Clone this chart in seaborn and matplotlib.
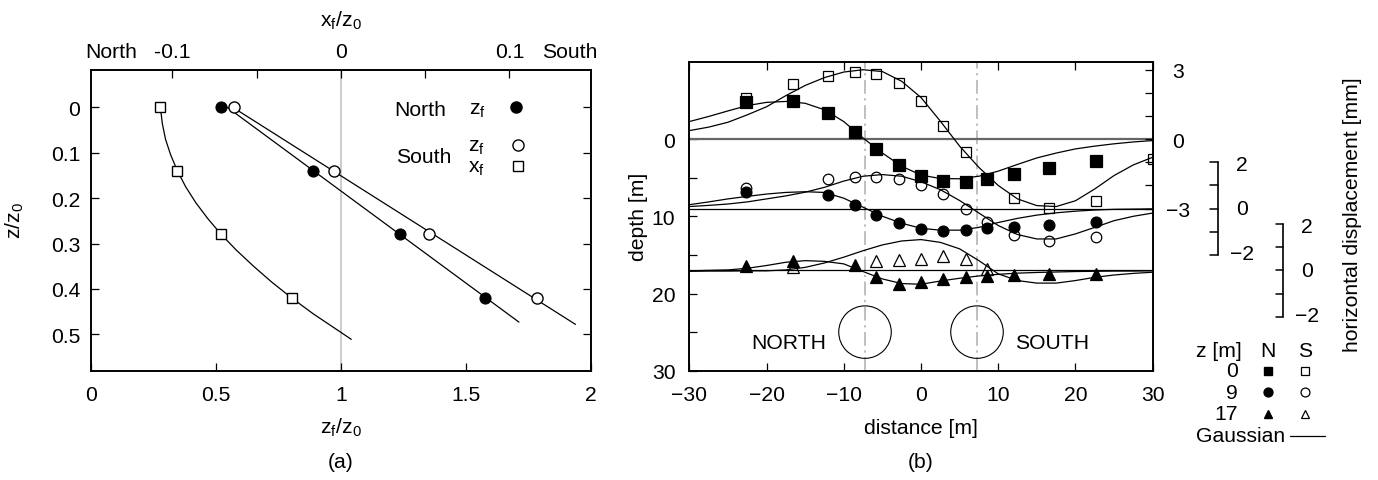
import numpy as np
import pandas as pd
import matplotlib
matplotlib.use("Agg")
import matplotlib.pyplot as plt
from matplotlib.patches import Circle
import seaborn as sns

# ---------------- Panel (a) data ----------------
a_z = [0.0, 0.14, 0.28, 0.42]                       # z/z0
a_north_zf = [0.519, 0.890, 1.235, 1.578]           # North z_f/z0
a_south_zf = [0.572, 0.972, 1.352, 1.783]           # South z_f/z0
a_south_xf = [-0.1071, -0.0970, -0.0710, -0.0291]   # South x_f/z0 (top axis)
a_north_line_z = [0.0, 0.473]
a_north_line_zf = [0.546, 1.712]
a_south_line_z = [0.0, 0.478]
a_south_line_zf = [0.568, 1.938]
a_xf_curve_z = [0.0, 0.035, 0.07, 0.105, 0.14, 0.175, 0.21, 0.245, 0.28,
                0.315, 0.35, 0.385, 0.42, 0.455, 0.49, 0.511]
a_xf_curve = [-0.1071, -0.1060, -0.1041, -0.1010, -0.0970, -0.0921, -0.0861,
              -0.0790, -0.0710, -0.0619, -0.0518, -0.0410, -0.0291, -0.0163,
              -0.0022, 0.0062]

# ---------------- Panel (b) data ----------------
# horizontal displacement [mm] vs distance [m]; 1 mm drawn as 3 m of depth
b_x_n0 = [-22.7, -16.6, -12.0, -8.6, -5.8, -2.9, 0.0, 2.9, 5.8, 8.6, 12.0, 16.6, 22.7]
b_d_n0 = [1.62, 1.66, 1.12, 0.30, -0.41, -1.11, -1.57, -1.82, -1.84, -1.73, -1.52, -1.25, -0.95]
b_x_s0 = [-22.7, -16.6, -12.0, -8.6, -5.8, -2.9, 0.0, 2.9, 5.8, 12.0, 16.6, 22.7, 30.0]
b_d_s0 = [1.76, 2.38, 2.74, 2.88, 2.82, 2.42, 1.66, 0.59, -0.57, -2.55, -2.98, -2.68, -0.85]
b_x_n9 = [-22.7, -12.0, -8.6, -5.8, -2.9, 0.0, 2.9, 5.8, 8.6, 12.0, 16.6, 22.7]
b_d_n9 = [0.73, 0.59, 0.17, -0.26, -0.63, -0.87, -0.95, -0.92, -0.85, -0.80, -0.69, -0.56]
b_x_s9 = [-22.7, -12.0, -8.6, -5.8, -2.9, 0.0, 2.9, 5.8, 8.6, 12.0, 16.6, 22.7]
b_d_s9 = [0.88, 1.28, 1.36, 1.36, 1.28, 1.02, 0.63, -0.01, -0.59, -1.14, -1.38, -1.24]
b_x_n17 = [-22.7, -16.6, -8.6, -5.8, -2.9, 0.0, 2.9, 5.8, 8.6, 12.0, 16.6, 22.7]
b_d_n17 = [0.20, 0.39, 0.24, -0.30, -0.61, -0.51, -0.38, -0.30, -0.24, -0.20, -0.17, -0.14]
b_x_s17 = [-16.6, -5.8, -2.9, 0.0, 2.9, 5.8, 8.6]
b_d_s17 = [0.16, 0.41, 0.44, 0.50, 0.61, 0.48, 0.05]

# Gaussian curves
b_xg = [-30, -27.5, -25, -22.5, -20, -17.5, -15, -12.5, -10, -7.5, -5, -2.5, 0,
        2.5, 5, 7.5, 10, 12.5, 15, 17.5, 20, 22.5, 25, 27.5, 30]
b_g_n0 = [0.76, 0.98, 1.22, 1.45, 1.59, 1.63, 1.55, 1.27, 0.76, 0.05, -0.60, -1.17, -1.55,
          -1.70, -1.71, -1.60, -1.38, -1.09, -0.81, -0.60, -0.42, -0.30, -0.20, -0.12, -0.06]
b_g_s0 = [0.37, 0.52, 0.73, 1.05, 1.40, 1.88, 2.32, 2.66, 2.90, 3.00, 2.92, 2.50, 1.80,
          0.78, -0.30, -1.22, -2.00, -2.58, -2.87, -2.91, -2.66, -2.15, -1.57, -1.11, -0.78]
b_g_n9 = [0.17, 0.29, 0.42, 0.53, 0.63, 0.70, 0.73, 0.70, 0.45, 0.06, -0.33, -0.63, -0.85,
          -0.93, -0.93, -0.81, -0.60, -0.42, -0.28, -0.18, -0.11, -0.06, -0.03, -0.02, -0.01]
b_g_s9 = [0.09, 0.14, 0.20, 0.29, 0.42, 0.55, 0.71, 0.92, 1.19, 1.40, 1.47, 1.40, 1.16,
          0.82, 0.35, -0.19, -0.73, -1.12, -1.31, -1.31, -1.09, -0.81, -0.52, -0.33, -0.19]
b_g_n17 = [-0.02, 0.00, 0.02, 0.09, 0.21, 0.35, 0.42, 0.39, 0.28, -0.05, -0.37, -0.57, -0.60,
           -0.46, -0.34, -0.24, -0.17, -0.12, -0.09, -0.07, -0.05, -0.04, -0.03, -0.03, -0.02]
b_g_s17 = [-0.04, -0.03, -0.03, -0.02, -0.02, 0.02, 0.13, 0.32, 0.57, 0.85, 1.10, 1.27, 1.33,
           1.21, 0.93, 0.42, -0.15, -0.44, -0.55, -0.55, -0.44, -0.30, -0.20, -0.13, -0.08]

b_depths = [0, 9, 17]
MM_TO_M = 3.0
tunnel_x = [-7.25, 7.25]
tunnel_depth = 25.0
tunnel_radius = 3.4

# ---------------- figure ----------------
W, H = 1378, 481
def fx(px):
    return px / W
def fy(py):
    return 1 - py / H

sns.set_theme(style="white")
plt.rcParams["font.family"] = ["Liberation Sans", "DejaVu Sans"]
plt.rcParams["mathtext.fontset"] = "custom"
plt.rcParams["mathtext.rm"] = "Liberation Sans"
plt.rcParams["mathtext.it"] = "Liberation Sans"
FS = 15.2
K = "black"

fig = plt.figure(figsize=(W / 100, H / 100), dpi=100)
fig.patch.set_facecolor("white")

axA = fig.add_axes([fx(90.7), fy(371.7), (591 - 90.7) / W, (371.7 - 71.3) / H])
axB = fig.add_axes([fx(689.3), fy(371.7), (1152.7 - 689.3) / W, (371.7 - 63) / H])

for ax in (axA, axB):
    for s in ax.spines.values():
        s.set_color(K)
        s.set_linewidth(1.2)
    ax.set_facecolor("white")

line_kw = dict(color=K, lw=0.9, sort=False, estimator=None, legend=False)

# ----- panel (a) -----
axA.axvline(1.0, color="0.75", lw=1.1, zorder=0)
sns.lineplot(x=a_north_line_zf, y=a_north_line_z, ax=axA, **line_kw)
sns.lineplot(x=a_south_line_zf, y=a_south_line_z, ax=axA, **line_kw)
sns.lineplot(x=a_north_zf, y=a_z, ax=axA, marker="o", ms=8, mfc=K, mec=K,
             linestyle="", color=K, sort=False, estimator=None, legend=False)
sns.lineplot(x=a_south_zf, y=a_z, ax=axA, marker="o", ms=8, mfc="white", mec=K, mew=1.0,
             linestyle="", color=K, sort=False, estimator=None, legend=False)

axT = axA.twiny()
sns.lineplot(x=a_xf_curve, y=a_xf_curve_z, ax=axT, **line_kw)
sns.lineplot(x=a_south_xf, y=a_z, ax=axT, marker="s", ms=7.3, mfc="white", mec=K, mew=1.0,
             linestyle="", color=K, sort=False, estimator=None, legend=False)
axT.set_xlim(-0.14848, 0.14848)
axA.set_xlim(0, 2)
axA.set_ylim(0.58, -0.0815)
axT.set_ylim(0.58, -0.0815)

axA.set_xticks([0, 0.5, 1, 1.5, 2])
axA.set_xticklabels(["0", "0.5", "1", "1.5", "2"])
axA.set_yticks([0, 0.1, 0.2, 0.3, 0.4, 0.5])
axA.set_yticklabels(["0", "0.1", "0.2", "0.3", "0.4", "0.5"])
axA.tick_params(axis="x", direction="in", length=5.5, width=0.9, bottom=True, top=False,
                labelsize=FS, pad=10, colors=K)
axA.tick_params(axis="y", direction="in", length=5.5, width=0.9, left=True, right=True,
                labelsize=FS, pad=7.5, colors=K)
axT.set_xticks([-0.1, -0.05, 0, 0.05, 0.1])
axT.set_xticklabels(["-0.1", "", "0", "", "0.1"])
axT.tick_params(axis="x", direction="in", length=5.5, width=0.9, top=True, bottom=False,
                labelsize=FS, pad=7, colors=K)
for s in axT.spines.values():
    s.set_color(K)
    s.set_linewidth(1.2)
axA.set_xlabel("")
axA.set_ylabel("")
axT.set_xlabel("")
axT.set_ylabel("")

# panel (a) in-plot legend
axA.text(1.316, 0.005, "North", fontsize=FS, ha="center", va="center", color=K)
axA.text(1.546, 0.005, r"$\mathregular{z_f}$", fontsize=FS, ha="center", va="center", color=K)
axA.plot([1.70], [0.0], marker="o", ms=8, mfc=K, mec=K, linestyle="")
axA.text(1.33, 0.108, "South", fontsize=FS, ha="center", va="center", color=K)
axA.text(1.542, 0.086, r"$\mathregular{z_f}$", fontsize=FS, ha="center", va="center", color=K)
axA.plot([1.708], [0.082], marker="o", ms=8, mfc="white", mec=K, mew=1.0, linestyle="")
axA.text(1.542, 0.133, r"$\mathregular{x_f}$", fontsize=FS, ha="center", va="center", color=K)
axA.plot([1.708], [0.13], marker="s", ms=7.3, mfc="white", mec=K, mew=1.0, linestyle="")

fig.text(fx(111), fy(53), "North", fontsize=FS, ha="center", va="center", color=K)
fig.text(fx(569.5), fy(53), "South", fontsize=FS, ha="center", va="center", color=K)
fig.text(fx(341), fy(21), r"$\mathregular{x_f/z_0}$", fontsize=FS, ha="center", va="center", color=K)
fig.text(fx(341), fy(428), r"$\mathregular{z_f/z_0}$", fontsize=FS, ha="center", va="center", color=K)
fig.text(fx(15), fy(221), r"$\mathregular{z/z_0}$", fontsize=FS, ha="center", va="center",
         rotation=90, color=K)
fig.text(fx(341), fy(463), "(a)", fontsize=FS, ha="center", va="center", color=K)

# ----- panel (b) -----
axB.set_xlim(-30, 30)
axB.set_ylim(30, -10)
axB.axhline(0, color="0.4", lw=1.6, zorder=1)
axB.axhline(9, color=K, lw=0.9, zorder=1)
axB.axhline(17, color=K, lw=0.9, zorder=1)
for tx in tunnel_x:
    axB.axvline(tx, color="0.68", lw=1.1, ls=(0, (9, 3, 1.5, 3)), zorder=0)
    axB.add_patch(Circle((tx, tunnel_depth), tunnel_radius, fill=False, ec=K, lw=0.8))

curves = [(b_g_n0, 0), (b_g_s0, 0), (b_g_n9, 9), (b_g_s9, 9), (b_g_n17, 17), (b_g_s17, 17)]
for g, base in curves:
    yy = base - MM_TO_M * np.asarray(g)
    sns.lineplot(x=b_xg, y=yy, ax=axB, **line_kw)

series = [
    (b_x_n0, b_d_n0, 0, "s", K, 8.4),
    (b_x_s0, b_d_s0, 0, "s", "none", 7.6),
    (b_x_n9, b_d_n9, 9, "o", K, 7.8),
    (b_x_s9, b_d_s9, 9, "o", "none", 7.6),
    (b_x_n17, b_d_n17, 17, "^", K, 8.2),
    (b_x_s17, b_d_s17, 17, "^", "none", 8.2),
]
for xs, ds, base, mk, fc, ms in series:
    yy = base - MM_TO_M * np.asarray(ds)
    sns.lineplot(x=xs, y=yy, ax=axB, marker=mk, ms=ms, mfc=fc, mec=K, mew=0.9,
                 linestyle="", color=K, sort=False, estimator=None, legend=False)

axB.set_xlabel("")
axB.set_ylabel("")
axB.set_xticks([-30, -20, -10, 0, 10, 20, 30])
axB.set_xticklabels(["\u221230", "\u221220", "\u221210", "0", "10", "20", "30"])
axB.set_yticks([0, 5, 10, 15, 20, 25, 30])
axB.set_yticklabels(["0", "", "10", "", "20", "", "30"])
axB.tick_params(axis="x", direction="in", length=6, width=0.9, bottom=True, top=True,
                labelsize=FS, pad=10, colors=K)
axB.tick_params(axis="y", direction="in", length=6, width=0.9, left=True, right=False,
                labelsize=FS, pad=10, colors=K)

axR = axB.twinx()
axR.set_ylim(-30 / MM_TO_M, 10 / MM_TO_M)
axR.set_yticks([-3, -2, -1, 0, 1, 2, 3])
axR.set_yticklabels(["\u22123", "", "", "0", "", "", "3"])
axR.tick_params(axis="y", direction="in", length=6, width=0.9, right=True, left=False,
                labelsize=FS, pad=18, colors=K)
for lab in axR.get_yticklabels():
    lab.set_horizontalalignment("center")
for s in axR.spines.values():
    s.set_color(K)
    s.set_linewidth(1.2)

# secondary displacement scale bars (for z = 9 m and z = 17 m)
def scale_bar(xb, base, lab_x):
    top, bot = base - 2 * MM_TO_M, base + 2 * MM_TO_M
    axB.plot([xb, xb], [top, bot], color=K, lw=1.2, clip_on=False)
    for d in np.arange(top, bot + 0.01, MM_TO_M):
        axB.plot([xb - 0.95, xb], [d, d], color=K, lw=1.1, clip_on=False)
    axB.text(lab_x, top + 0.3, "2", fontsize=FS, ha="center", va="center", color=K, clip_on=False)
    axB.text(lab_x, base, "0", fontsize=FS, ha="center", va="center", color=K, clip_on=False)
    axB.text(lab_x, bot - 0.2, "\u22122", fontsize=FS, ha="center", va="center", color=K,
             clip_on=False)

scale_bar(38.4, 9, 41.6)
scale_bar(46.85, 17, 50.0)

# outside legend of panel (b)
fig.text(fx(1219), fy(351.7), "z [m]", fontsize=FS, ha="center", va="center", color=K)
fig.text(fx(1268), fy(351.7), "N", fontsize=FS, ha="center", va="center", color=K)
fig.text(fx(1305), fy(351.7), "S", fontsize=FS, ha="center", va="center", color=K)
rows = [("0", "s", 371.7), ("9", "o", 393.3), ("17", "^", 415.0)]
def px2x(px):
    return (px - 921.0) / 7.72
def py2d(py):
    return (py - 140.2) / 7.72
for lab, mk, py in rows:
    fig.text(fx(1238), fy(py), lab, fontsize=FS, ha="right", va="center", color=K)
    axB.plot([px2x(1268)], [py2d(py)], marker=mk, ms=6.4, mfc=K, mec=K, linestyle="",
             clip_on=False)
    axB.plot([px2x(1305)], [py2d(py)], marker=mk, ms=6.4, mfc="white", mec=K, mew=0.9,
             linestyle="", clip_on=False)
fig.text(fx(1285), fy(436.7), "Gaussian", fontsize=FS, ha="right", va="center", color=K)
axB.plot([px2x(1290), px2x(1325)], [py2d(436.7)] * 2, color=K, lw=0.9, clip_on=False)

axB.text(-17.1, 26.4, "NORTH", fontsize=FS, ha="center", va="center", color=K)
axB.text(17.0, 26.4, "SOUTH", fontsize=FS, ha="center", va="center", color=K)

fig.text(fx(639), fy(217), "depth [m]", fontsize=FS, ha="center", va="center", rotation=90, color=K)
fig.text(fx(921), fy(428), "distance [m]", fontsize=FS, ha="center", va="center", color=K)
fig.text(fx(921), fy(463), "(b)", fontsize=FS, ha="center", va="center", color=K)
fig.text(fx(1352), fy(215), "horizontal displacement [mm]", fontsize=FS, ha="center",
         va="center", rotation=90, color=K)

fig.savefig("out.png", dpi=100, facecolor="white")
